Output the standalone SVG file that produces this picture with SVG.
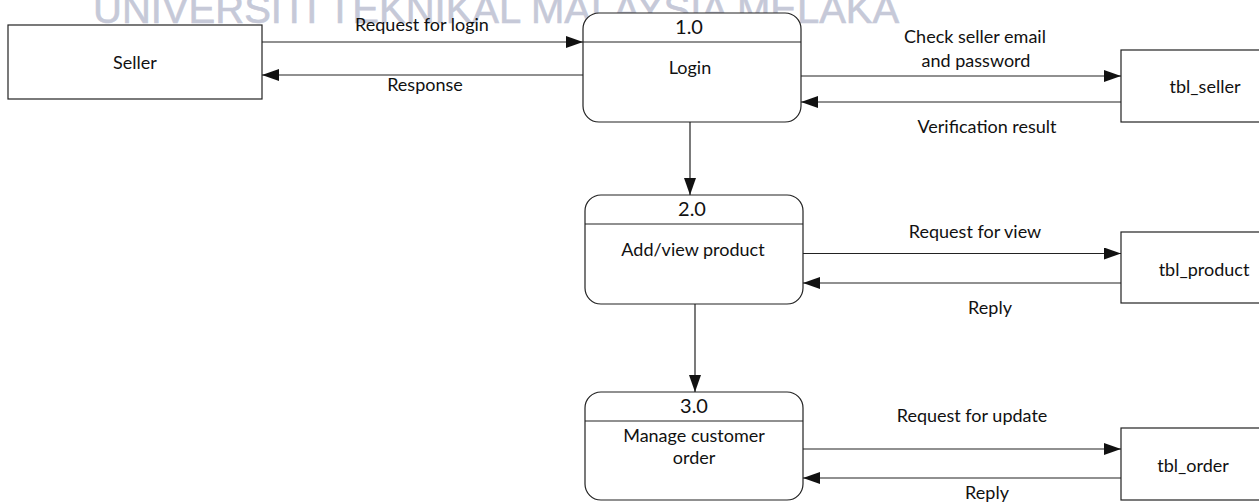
<svg xmlns="http://www.w3.org/2000/svg" width="1259" height="503" viewBox="0 0 1259 503">
  <style>
    .box { fill: #ffffff; stroke: #222222; stroke-width: 1.2; }
    .div { stroke: #222222; stroke-width: 1.2; }
    .flow { fill: none; stroke: #222222; stroke-width: 1.2; marker-end: url(#arrow); }
    .lbl { font-family: Lato, "Liberation Sans", sans-serif; font-size: 18px; fill: #111111; text-anchor: middle; }
    .num { font-family: Lato, "Liberation Sans", sans-serif; font-size: 20px; fill: #111111; text-anchor: middle; }
    .wm { font-family: "Liberation Sans", Arial, sans-serif; font-size: 40px; fill: #c6c9d8; stroke: #c6c9d8; stroke-width: 0.6; }
  </style>
  <defs>
    <marker id="arrow" markerUnits="userSpaceOnUse" markerWidth="17" markerHeight="12" refX="17" refY="6" orient="auto">
      <path d="M0,0 L17,6 L0,12 z" fill="#111111"/>
    </marker>
  </defs>

  <rect width="1259" height="503" fill="#ffffff"/>

  <!-- background banner text -->
  <text class="wm" x="93" y="23">UNIVERSITI TEKNIKAL MALAYSIA MELAKA</text>

  <!-- external entity -->
  <g id="seller">
    <rect class="box" x="8" y="25" width="254" height="74"/>
    <text class="lbl" x="135" y="69">Seller</text>
  </g>

  <!-- processes -->
  <g id="p1">
    <rect class="box" x="583" y="13" width="218" height="109" rx="16" ry="16"/>
    <line class="div" x1="583" y1="42" x2="801" y2="42"/>
    <text class="num" x="689" y="34">1.0</text>
    <text class="lbl" x="690" y="74">Login</text>
  </g>
  <g id="p2">
    <rect class="box" x="585" y="195" width="218" height="109" rx="16" ry="16"/>
    <line class="div" x1="585" y1="224" x2="803" y2="224"/>
    <text class="num" x="692" y="216">2.0</text>
    <text class="lbl" x="693" y="256">Add/view product</text>
  </g>
  <g id="p3">
    <rect class="box" x="585" y="392" width="218" height="108" rx="16" ry="16"/>
    <line class="div" x1="585" y1="421" x2="803" y2="421"/>
    <text class="num" x="694" y="413">3.0</text>
    <text class="lbl" x="694" y="442">Manage customer</text>
    <text class="lbl" x="694" y="464">order</text>
  </g>

  <!-- data stores -->
  <g id="tbl_seller">
    <rect class="box" x="1121" y="50" width="170" height="72"/>
    <text class="lbl" x="1205" y="93">tbl_seller</text>
  </g>
  <g id="tbl_product">
    <rect class="box" x="1121" y="232" width="170" height="71"/>
    <text class="lbl" x="1204" y="276">tbl_product</text>
  </g>
  <g id="tbl_order">
    <rect class="box" x="1121" y="428" width="170" height="72"/>
    <text class="lbl" x="1193" y="472">tbl_order</text>
  </g>

  <!-- data flows -->
  <g id="connectors">
    <path class="flow" d="M262,42 H583"/>
    <path class="flow" d="M583,75 H262"/>
    <path class="flow" d="M801,76 H1121"/>
    <path class="flow" d="M1121,102 H801"/>
    <path class="flow" d="M690,122 V195"/>
    <path class="flow" d="M803,253.5 H1121"/>
    <path class="flow" d="M1121,283 H803"/>
    <path class="flow" d="M695,304 V392"/>
    <path class="flow" d="M803,449 H1121"/>
    <path class="flow" d="M1121,478 H803"/>

    <text class="lbl" x="422" y="31">Request for login</text>
    <text class="lbl" x="425" y="91">Response</text>
    <text class="lbl" x="975" y="43">Check seller email</text>
    <text class="lbl" x="976" y="67">and password</text>
    <text class="lbl" x="987" y="133">Verification result</text>
    <text class="lbl" x="975" y="238">Request for view</text>
    <text class="lbl" x="990" y="314">Reply</text>
    <text class="lbl" x="972" y="422">Request for update</text>
    <text class="lbl" x="987" y="499">Reply</text>
  </g>
</svg>
